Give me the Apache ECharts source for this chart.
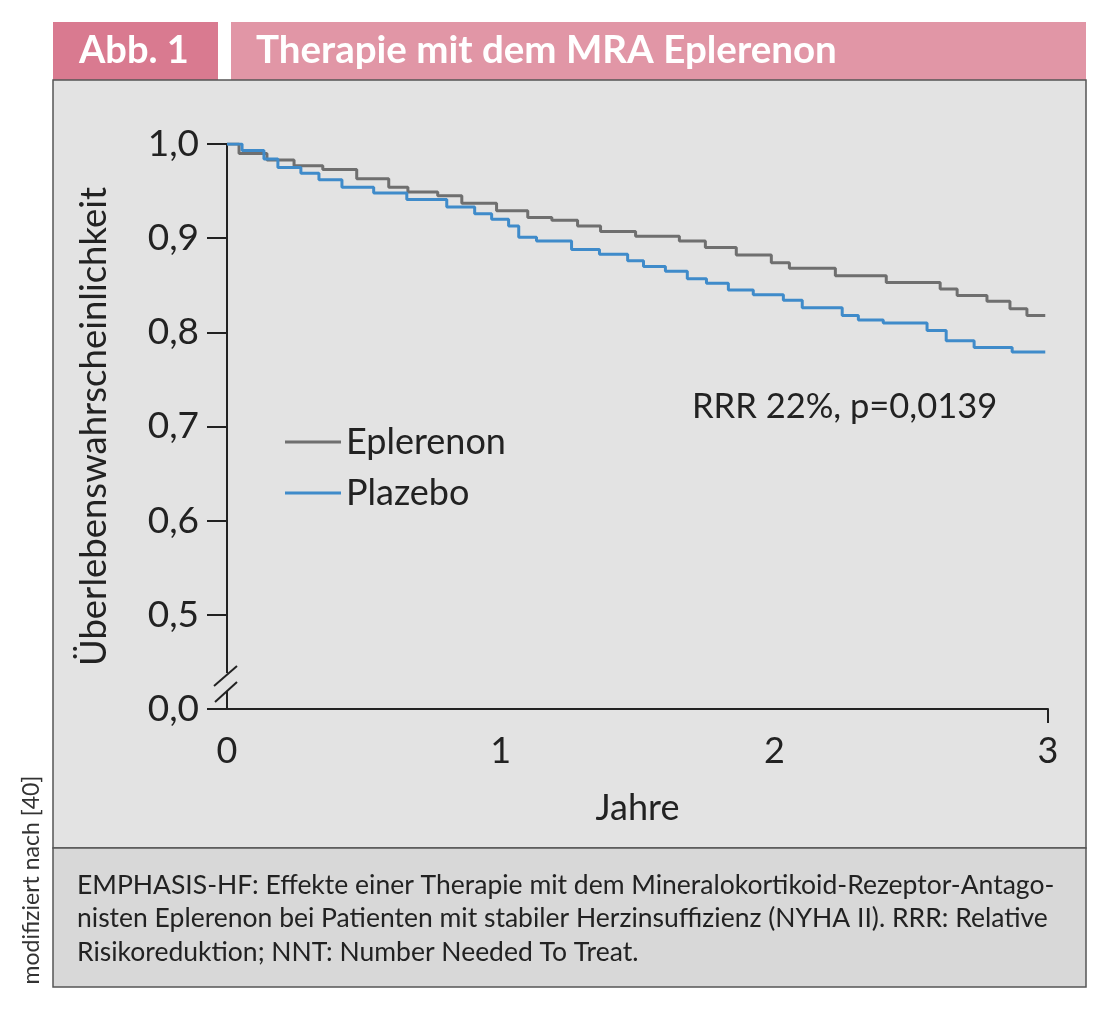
<!DOCTYPE html>
<html>
<head>
<meta charset="utf-8">
<style>
html,body{margin:0;padding:0;background:#fff;}
#c{width:1100px;height:1017px;}
</style>
<script src="https://cdn.jsdelivr.net/npm/echarts@6/dist/echarts.min.js"></script>
</head>
<body>
<div id="c"></div>
<script>
// Kaplan-Meier step data: [Jahre, Überlebenswahrscheinlichkeit]
const eplerenonT = [0, 0.044, 0.146, 0.245, 0.350, 0.474, 0.591, 0.661, 0.770, 0.858, 0.985, 1.099, 1.187, 1.281, 1.365, 1.493, 1.653, 1.748, 1.861, 1.989, 2.055, 2.223, 2.409, 2.606, 2.668, 2.777, 2.861, 2.923, 2.99];
const eplerenonS = [1.000, 0.990, 0.983, 0.977, 0.973, 0.963, 0.954, 0.949, 0.945, 0.937, 0.929, 0.922, 0.919, 0.913, 0.907, 0.902, 0.897, 0.890, 0.882, 0.874, 0.868, 0.860, 0.853, 0.846, 0.839, 0.833, 0.825, 0.818, 0.818];
const plazeboT = [0, 0.055, 0.135, 0.186, 0.270, 0.336, 0.420, 0.536, 0.657, 0.803, 0.905, 0.967, 1.029, 1.066, 1.131, 1.259, 1.361, 1.464, 1.522, 1.602, 1.682, 1.752, 1.832, 1.923, 2.033, 2.102, 2.248, 2.307, 2.398, 2.558, 2.628, 2.730, 2.869, 2.99];
const plazeboS = [1.000, 0.993, 0.984, 0.975, 0.969, 0.962, 0.954, 0.948, 0.941, 0.933, 0.926, 0.920, 0.913, 0.901, 0.897, 0.888, 0.883, 0.876, 0.870, 0.865, 0.857, 0.852, 0.845, 0.840, 0.834, 0.826, 0.818, 0.813, 0.810, 0.802, 0.791, 0.784, 0.779, 0.779];
const xTicks = [0, 1, 2, 3];
const seriesNames = ['Eplerenon', 'Plazebo'];
const yAxisMin = 0.4; // displayed as "0,0" (axis break)

const FONT = 'Lato, "Open Sans", sans-serif';
const chart = echarts.init(document.getElementById('c'));

function pairs(t, s){ return t.map((v,i)=>[v, s[i]]); }

const option = {
  backgroundColor: '#ffffff',
  animation: false,
  textStyle: {fontFamily: FONT},
  graphic: [
    // header boxes
    {type:'rect', shape:{x:53,y:22,width:165,height:58}, style:{fill:'#d97a90'}, z:-10},
    {type:'rect', shape:{x:231,y:22,width:855,height:58}, style:{fill:'#e196a6'}, z:-10},
    {type:'text', x:79, y:51, style:{text:'Abb. 1', fill:'#fff', font:'bold 38px '+FONT, verticalAlign:'middle'}},
    {type:'text', x:256, y:51, style:{text:'Therapie mit dem MRA Eplerenon', fill:'#fff', font:'bold 38.5px '+FONT, verticalAlign:'middle'}},
    // panel
    {type:'rect', shape:{x:53,y:80,width:1033,height:768}, style:{fill:'#e3e3e3', stroke:'#555', lineWidth:1.5}, z:-10},
    {type:'rect', shape:{x:53,y:848,width:1033,height:139}, style:{fill:'#d8d8d8', stroke:'#555', lineWidth:1.5}, z:-10},
    {type:'text', x:77, y:885, style:{text:'EMPHASIS-HF: Effekte einer Therapie mit dem Mineralokortikoid-Rezeptor-Antago-', fill:'#222', font:'26.5px '+FONT, verticalAlign:'middle'}},
    {type:'text', x:77, y:918, style:{text:'nisten Eplerenon bei Patienten mit stabiler Herzinsuffizienz (NYHA II). RRR: Relative', fill:'#222', font:'26.5px '+FONT, verticalAlign:'middle'}},
    {type:'text', x:77, y:952, style:{text:'Risikoreduktion; NNT: Number Needed To Treat.', fill:'#222', font:'26.5px '+FONT, verticalAlign:'middle'}},
    {type:'text', x:32, y:880, rotation:Math.PI/2, style:{text:'modifiziert nach [40]', fill:'#333', font:'23px '+FONT, align:'center', verticalAlign:'middle'}},
    {type:'text', x:692, y:407, style:{text:'RRR 22%, p=0,0139', fill:'#222', font:'34.5px '+FONT, verticalAlign:'middle'}}
  ],
  grid: {left:227, right:52, top:144, bottom:308, containLabel:false},
  legend: {
    orient:'vertical', left:280, top:417, icon:'rect', itemWidth:56, itemHeight:3, itemGap:11,
    textStyle:{fontSize:36, lineHeight:40, color:'#222', fontFamily:FONT},
    data: seriesNames
  },
  xAxis: {
    type:'value', min:0, max:3, interval:1,
    name:'Jahre', nameLocation:'middle', nameGap:81,
    nameTextStyle:{fontSize:36, color:'#222', fontFamily:FONT},
    axisLine:{show:true, onZero:false, lineStyle:{color:'#222', width:2}},
    axisTick:{show:true, customValues:[3], length:14, lineStyle:{color:'#222', width:2}},
    axisLabel:{fontSize:36, color:'#222', margin:24, fontFamily:FONT, customValues:xTicks},
    splitLine:{show:false}
  },
  yAxis: {
    type:'value', min:yAxisMin, max:1.0, interval:0.1,
    name:'Überlebenswahrscheinlichkeit', nameLocation:'middle', nameGap:114,
    nameTextStyle:{fontSize:36.5, color:'#222', fontFamily:FONT},
    axisLine:{show:true, lineStyle:{color:'#222', width:2}},
    axisTick:{show:true, inside:false, length:20, lineStyle:{color:'#222', width:2}},
    axisLabel:{fontSize:37, color:'#222', margin:28, fontFamily:FONT,
      formatter: v => (v < yAxisMin + 0.05 ? '0,0' : v.toFixed(1).replace('.', ','))},
    splitLine:{show:false}
  },
  series: [
    {name:seriesNames[0], type:'line', step:'end', symbol:'none', data:pairs(eplerenonT, eplerenonS),
     lineStyle:{color:'#6f6f6f', width:3}, itemStyle:{color:'#6f6f6f'}, z:2},
    {name:seriesNames[1], type:'line', step:'end', symbol:'none', data:pairs(plazeboT, plazeboS),
     lineStyle:{color:'#3f8bca', width:3}, itemStyle:{color:'#3f8bca'}, z:3}
  ]
};
chart.setOption(option);

// axis break marks on the y axis, positioned from the axis scale
const p0 = chart.convertToPixel({xAxisIndex:0, yAxisIndex:0}, [0, yAxisMin]);
const p1 = chart.convertToPixel({xAxisIndex:0, yAxisIndex:0}, [0, yAxisMin + 0.1]);
const step = p0[1] - p1[1];
const ax = p0[0] - 1;
const c1 = p0[1] - step * 0.35, c2 = p0[1] - step * 0.18;
chart.setOption({graphic: option.graphic.concat([
  {type:'rect', shape:{x:ax-4, y:c1-3, width:8, height:(c2-c1)+2}, style:{fill:'#e3e3e3'}, z:50},
  {type:'line', shape:{x1:ax-12, y1:c1+10, x2:ax+11, y2:c1-10}, style:{stroke:'#222', lineWidth:2}, z:51},
  {type:'line', shape:{x1:ax-11, y1:c2+10, x2:ax+11, y2:c2-10}, style:{stroke:'#222', lineWidth:2}, z:51}
])});
</script>
</body>
</html>
